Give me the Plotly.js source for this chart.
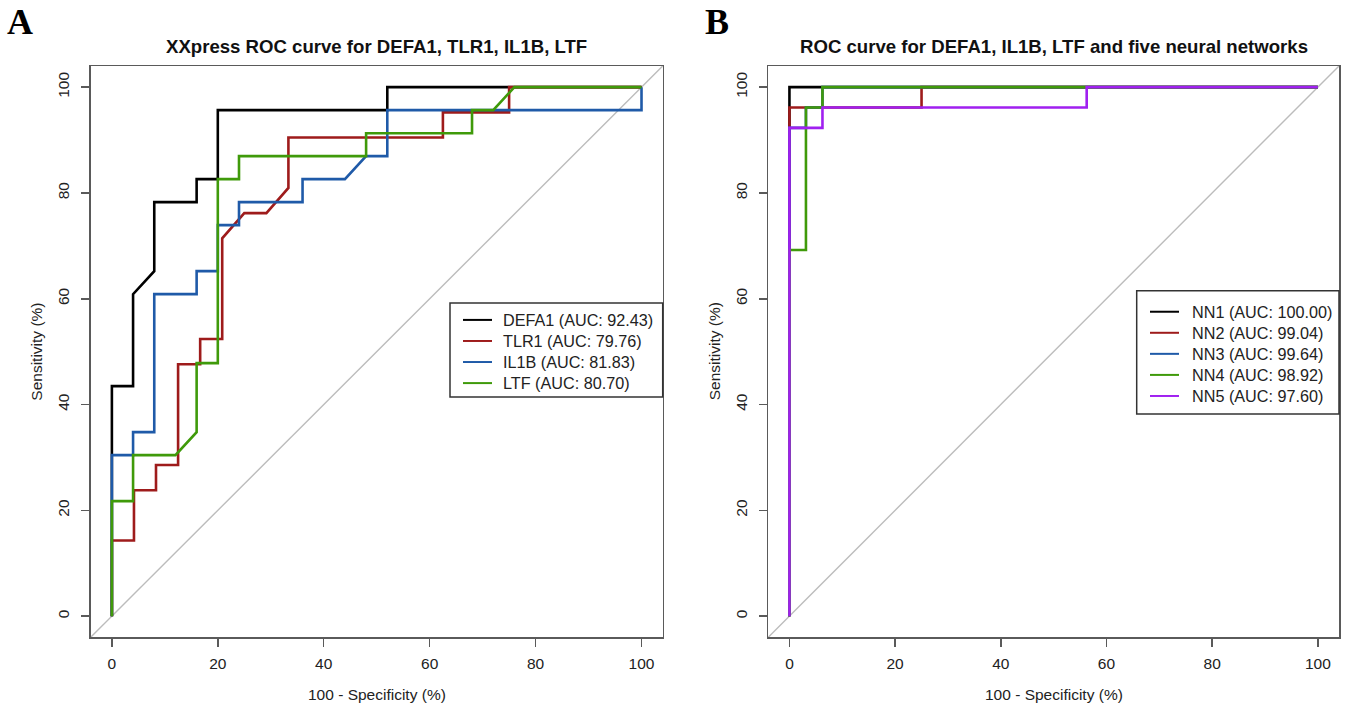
<!DOCTYPE html>
<html><head><meta charset="utf-8">
<script src="https://cdn.plot.ly/plotly-3.0.1.min.js"></script>
<style>html,body{margin:0;padding:0;background:#fff}#chart{width:1350px;height:706px}</style>
</head><body><div id="chart"></div>
<script>
// ---------- Panel A data (100 - Specificity %, Sensitivity %) ----------
const panelA_names = ['DEFA1', 'TLR1', 'IL1B', 'LTF'];
const panelA_auc = ['92.43', '79.76', '81.83', '80.70'];

const defa1_fpr = [0, 0, 4, 4, 8, 8, 16, 16, 20, 20, 52, 52, 100];
const defa1_tpr = [0, 43.48, 43.48, 60.87, 65.22, 78.26, 78.26, 82.61, 82.61, 95.65, 95.65, 100, 100];

const tlr1_fpr = [0, 0, 4.17, 4.17, 8.33, 8.33, 12.5, 12.5, 16.67, 16.67, 20.83, 20.83, 25, 29.17, 33.33, 33.33, 62.5, 62.5, 75, 75, 100];
const tlr1_tpr = [0, 14.29, 14.29, 23.81, 23.81, 28.57, 28.57, 47.62, 47.62, 52.38, 52.38, 71.43, 76.19, 76.19, 80.95, 90.48, 90.48, 95.24, 95.24, 100, 100];

const il1b_fpr = [0, 0, 4, 4, 8, 8, 16, 16, 20, 20, 24, 24, 36, 36, 44, 48, 52, 52, 100, 100];
const il1b_tpr = [0, 30.43, 30.43, 34.78, 34.78, 60.87, 60.87, 65.22, 65.22, 73.91, 73.91, 78.26, 78.26, 82.61, 82.61, 86.96, 86.96, 95.65, 95.65, 100];

const ltf_fpr = [0, 0, 4, 4, 12, 16, 16, 20, 20, 24, 24, 48, 48, 68, 68, 72, 76, 100];
const ltf_tpr = [0, 21.74, 21.74, 30.43, 30.43, 34.78, 47.83, 47.83, 82.61, 82.61, 86.96, 86.96, 91.30, 91.30, 95.65, 95.65, 100, 100];

// ---------- Panel B data ----------
const panelB_names = ['NN1', 'NN2', 'NN3', 'NN4', 'NN5'];
const panelB_auc = ['100.00', '99.04', '99.64', '98.92', '97.60'];

const nn1_fpr = [0, 0, 100];
const nn1_tpr = [0, 100, 100];
const nn2_fpr = [0, 0, 25, 25, 100];
const nn2_tpr = [0, 96.15, 96.15, 100, 100];
const nn3_fpr = [0, 0, 3.125, 3.125, 6.25, 6.25, 100];
const nn3_tpr = [0, 92.31, 92.31, 96.15, 96.15, 100, 100];
const nn4_fpr = [0, 0, 3.125, 3.125, 6.25, 6.25, 100];
const nn4_tpr = [0, 69.23, 69.23, 96.15, 96.15, 100, 100];
const nn5_fpr = [0, 0, 6.25, 6.25, 56.25, 56.25, 100];
const nn5_tpr = [0, 92.31, 92.31, 96.15, 96.15, 100, 100];

const tickValues = [0, 20, 40, 60, 80, 100];
const tickLabels = ['0', '20', '40', '60', '80', '100'];

const titleA = 'XXpress ROC curve for DEFA1, TLR1, IL1B, LTF';
const titleB = 'ROC curve for DEFA1, IL1B, LTF and five neural networks';
const xTitle = '100 - Specificity (%)';
const yTitle = 'Sensitivity (%)';

// ---------- Styling ----------
const FONT = 'Liberation Sans, Arial, sans-serif';
const BASE = 15.5;
const LEG = 16.2;
const colorsA = ['#000000', '#9e1b1b', '#1f5aa8', '#3f9a0a'];
const colorsB = ['#000000', '#9e1b1b', '#1f5aa8', '#3f9a0a', '#a020f0'];
const LW = 2.6;

const seriesA = [[defa1_fpr, defa1_tpr], [tlr1_fpr, tlr1_tpr], [il1b_fpr, il1b_tpr], [ltf_fpr, ltf_tpr]];
const seriesB = [[nn1_fpr, nn1_tpr], [nn2_fpr, nn2_tpr], [nn3_fpr, nn3_tpr], [nn4_fpr, nn4_tpr], [nn5_fpr, nn5_tpr]];
const labelsA = panelA_names.map((n, i) => n + ' (AUC: ' + panelA_auc[i] + ')');
const labelsB = panelB_names.map((n, i) => n + ' (AUC: ' + panelB_auc[i] + ')');

const traces = [];
seriesA.forEach((s, i) => traces.push({
  x: s[0], y: s[1], type: 'scatter', mode: 'lines', xaxis: 'x', yaxis: 'y',
  name: labelsA[i], showlegend: false,
  line: {color: colorsA[i], width: LW, shape: 'linear'}
}));
seriesB.forEach((s, i) => traces.push({
  x: s[0], y: s[1], type: 'scatter', mode: 'lines', xaxis: 'x2', yaxis: 'y2',
  name: labelsB[i], showlegend: false,
  line: {color: colorsB[i], width: LW, shape: 'linear'}
}));

const W = 1350, H = 706;
const px = v => v / W, py = v => 1 - v / H;
const boxA = [90.7, 662.7], boxB = [768.3, 1339], boxY = [66, 637.3];

const axisCommon = {
  range: [-4, 104], showgrid: false, zeroline: false, showline: true, mirror: true,
  linecolor: '#5a5a5a', linewidth: 1.5, ticks: 'outside', ticklen: 8, tickwidth: 1.5,
  tickcolor: '#5a5a5a', tickvals: tickValues, ticktext: tickLabels,
  tickfont: {family: FONT, size: BASE, color: '#222'}, fixedrange: true
};

const shapes = [
  {type: 'line', xref: 'x domain', yref: 'y domain', x0: 0, y0: 0, x1: 1, y1: 1, layer: 'below', line: {color: '#bcbcbc', width: 1.4}},
  {type: 'line', xref: 'x2 domain', yref: 'y2 domain', x0: 0, y0: 0, x1: 1, y1: 1, layer: 'below', line: {color: '#bcbcbc', width: 1.4}}
];
const annotations = [];

// Legend boxes (R-style legend: box, key lines, left-aligned labels)
function addLegend(labels, colors, box, keyX, textX) {
  const lineH = LEG * 1.3;
  const cy = (box.top + box.bottom) / 2 + 1.5;
  shapes.push({type: 'rect', xref: 'paper', yref: 'paper', x0: px(box.left), x1: px(box.right),
    y0: py(box.bottom), y1: py(box.top), line: {color: '#333', width: 1.5}, fillcolor: '#fff', layer: 'above'});
  labels.forEach((lab, i) => {
    const yy = cy + (i - (labels.length - 1) / 2) * lineH;
    shapes.push({type: 'line', xref: 'paper', yref: 'paper', x0: px(keyX[0]), x1: px(keyX[1]), y0: py(yy), y1: py(yy),
      line: {color: colors[i], width: 2}, layer: 'above'});
  });
  annotations.push({text: labels.join('<br>'), xref: 'paper', yref: 'paper', x: px(textX), y: py(cy),
    xanchor: 'left', yanchor: 'middle', align: 'left', showarrow: false,
    font: {family: FONT, size: LEG, color: '#222'}});
}
addLegend(labelsA, colorsA, {left: 450, right: 662.7, top: 303, bottom: 397}, [463, 492], 501);
addLegend(labelsB, colorsB, {left: 1136.7, right: 1339, top: 290.7, bottom: 414}, [1150, 1179], 1190);

annotations.push(
  {text: 'A', xref: 'paper', yref: 'paper', x: px(20), y: py(22), showarrow: false, xanchor: 'center', yanchor: 'middle',
    font: {family: 'Liberation Serif, Times New Roman, serif', size: 36, color: '#000', weight: 'bold'}},
  {text: 'B', xref: 'paper', yref: 'paper', x: px(716.5), y: py(22), showarrow: false, xanchor: 'center', yanchor: 'middle',
    font: {family: 'Liberation Serif, Times New Roman, serif', size: 36, color: '#000', weight: 'bold'}},
  {text: '<b>' + titleA + '</b>', xref: 'paper', yref: 'paper', x: px((boxA[0] + boxA[1]) / 2), y: py(46), showarrow: false,
    xanchor: 'center', yanchor: 'middle', font: {family: FONT, size: 18.6, color: '#111'}},
  {text: '<b>' + titleB + '</b>', xref: 'paper', yref: 'paper', x: px((boxB[0] + boxB[1]) / 2), y: py(46), showarrow: false,
    xanchor: 'center', yanchor: 'middle', font: {family: FONT, size: 18.6, color: '#111'}},
  {text: xTitle, xref: 'paper', yref: 'paper', x: px((boxA[0] + boxA[1]) / 2), y: py(694), showarrow: false,
    xanchor: 'center', yanchor: 'middle', font: {family: FONT, size: BASE, color: '#222'}},
  {text: xTitle, xref: 'paper', yref: 'paper', x: px((boxB[0] + boxB[1]) / 2), y: py(694), showarrow: false,
    xanchor: 'center', yanchor: 'middle', font: {family: FONT, size: BASE, color: '#222'}},
  {text: yTitle, xref: 'paper', yref: 'paper', x: px(37), y: py((boxY[0] + boxY[1]) / 2), showarrow: false, textangle: -90,
    xanchor: 'center', yanchor: 'middle', font: {family: FONT, size: BASE, color: '#222'}},
  {text: yTitle, xref: 'paper', yref: 'paper', x: px(714.6), y: py((boxY[0] + boxY[1]) / 2), showarrow: false, textangle: -90,
    xanchor: 'center', yanchor: 'middle', font: {family: FONT, size: BASE, color: '#222'}}
);

const layout = {
  width: W, height: H, margin: {l: 0, r: 0, t: 0, b: 0},
  paper_bgcolor: '#fff', plot_bgcolor: '#fff', showlegend: false,
  font: {family: FONT, color: '#222'},
  xaxis: Object.assign({}, axisCommon, {domain: [px(boxA[0]), px(boxA[1])], anchor: 'y', ticklabelstandoff: 4}),
  yaxis: Object.assign({}, axisCommon, {domain: [py(boxY[1]), py(boxY[0])], anchor: 'x', tickangle: -90, ticklabelstandoff: 6}),
  xaxis2: Object.assign({}, axisCommon, {domain: [px(boxB[0]), px(boxB[1])], anchor: 'y2', ticklabelstandoff: 4}),
  yaxis2: Object.assign({}, axisCommon, {domain: [py(boxY[1]), py(boxY[0])], anchor: 'x2', tickangle: -90, ticklabelstandoff: 6}),
  shapes: shapes,
  annotations: annotations
};

Plotly.newPlot('chart', traces, layout, {displayModeBar: false, staticPlot: true});
</script>
</body></html>
